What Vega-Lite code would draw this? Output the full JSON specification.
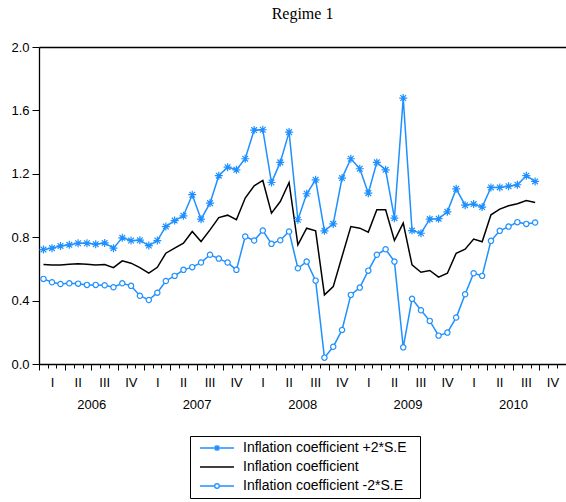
{
  "$schema": "https://vega.github.io/schema/vega-lite/v6.json",
  "width": 527,
  "height": 317,
  "autosize": "none",
  "padding": {"left": 39, "top": 47, "right": 0, "bottom": 138},
  "title": {
    "text": "Regime 1",
    "font": "Liberation Serif",
    "fontSize": 16,
    "fontWeight": "normal",
    "color": "black",
    "anchor": "middle",
    "offset": 19
  },
  "data": {
    "format": {"parse": {"date": "date:'%Y-%m'"}},
    "values": [
      {"date": "2006-01", "upper": 0.722, "coef": 0.627, "lower": 0.537},
      {"date": "2006-02", "upper": 0.731, "coef": 0.625, "lower": 0.516},
      {"date": "2006-03", "upper": 0.745, "coef": 0.625, "lower": 0.505},
      {"date": "2006-04", "upper": 0.752, "coef": 0.630, "lower": 0.509},
      {"date": "2006-05", "upper": 0.762, "coef": 0.632, "lower": 0.507},
      {"date": "2006-06", "upper": 0.762, "coef": 0.630, "lower": 0.499},
      {"date": "2006-07", "upper": 0.756, "coef": 0.625, "lower": 0.499},
      {"date": "2006-08", "upper": 0.764, "coef": 0.627, "lower": 0.497},
      {"date": "2006-09", "upper": 0.731, "coef": 0.608, "lower": 0.484},
      {"date": "2006-10", "upper": 0.796, "coef": 0.651, "lower": 0.509},
      {"date": "2006-11", "upper": 0.779, "coef": 0.636, "lower": 0.493},
      {"date": "2006-12", "upper": 0.781, "coef": 0.608, "lower": 0.431},
      {"date": "2007-01", "upper": 0.747, "coef": 0.573, "lower": 0.404},
      {"date": "2007-02", "upper": 0.779, "coef": 0.610, "lower": 0.450},
      {"date": "2007-03", "upper": 0.867, "coef": 0.699, "lower": 0.524},
      {"date": "2007-04", "upper": 0.905, "coef": 0.731, "lower": 0.556},
      {"date": "2007-05", "upper": 0.935, "coef": 0.762, "lower": 0.594},
      {"date": "2007-06", "upper": 1.068, "coef": 0.836, "lower": 0.611},
      {"date": "2007-07", "upper": 0.914, "coef": 0.773, "lower": 0.640},
      {"date": "2007-08", "upper": 1.015, "coef": 0.846, "lower": 0.689},
      {"date": "2007-09", "upper": 1.188, "coef": 0.924, "lower": 0.665},
      {"date": "2007-10", "upper": 1.242, "coef": 0.939, "lower": 0.640},
      {"date": "2007-11", "upper": 1.225, "coef": 0.910, "lower": 0.594},
      {"date": "2007-12", "upper": 1.295, "coef": 1.047, "lower": 0.804},
      {"date": "2008-01", "upper": 1.476, "coef": 1.124, "lower": 0.779},
      {"date": "2008-02", "upper": 1.478, "coef": 1.158, "lower": 0.842},
      {"date": "2008-03", "upper": 1.145, "coef": 0.952, "lower": 0.758},
      {"date": "2008-04", "upper": 1.272, "coef": 1.025, "lower": 0.781},
      {"date": "2008-05", "upper": 1.463, "coef": 1.145, "lower": 0.836},
      {"date": "2008-06", "upper": 0.910, "coef": 0.752, "lower": 0.604},
      {"date": "2008-07", "upper": 1.074, "coef": 0.857, "lower": 0.646},
      {"date": "2008-08", "upper": 1.162, "coef": 0.840, "lower": 0.526},
      {"date": "2008-09", "upper": 0.840, "coef": 0.436, "lower": 0.040},
      {"date": "2008-10", "upper": 0.884, "coef": 0.488, "lower": 0.109},
      {"date": "2008-11", "upper": 1.173, "coef": 0.678, "lower": 0.215},
      {"date": "2008-12", "upper": 1.295, "coef": 0.867, "lower": 0.436},
      {"date": "2009-01", "upper": 1.232, "coef": 0.857, "lower": 0.482},
      {"date": "2009-02", "upper": 1.078, "coef": 0.832, "lower": 0.589},
      {"date": "2009-03", "upper": 1.272, "coef": 0.973, "lower": 0.689},
      {"date": "2009-04", "upper": 1.225, "coef": 0.973, "lower": 0.724},
      {"date": "2009-05", "upper": 0.920, "coef": 0.779, "lower": 0.646},
      {"date": "2009-06", "upper": 1.678, "coef": 0.889, "lower": 0.105},
      {"date": "2009-07", "upper": 0.842, "coef": 0.625, "lower": 0.411},
      {"date": "2009-08", "upper": 0.825, "coef": 0.579, "lower": 0.339},
      {"date": "2009-09", "upper": 0.914, "coef": 0.590, "lower": 0.272},
      {"date": "2009-10", "upper": 0.917, "coef": 0.548, "lower": 0.179},
      {"date": "2009-11", "upper": 0.960, "coef": 0.573, "lower": 0.198},
      {"date": "2009-12", "upper": 1.105, "coef": 0.699, "lower": 0.293},
      {"date": "2010-01", "upper": 1.002, "coef": 0.724, "lower": 0.440},
      {"date": "2010-02", "upper": 1.009, "coef": 0.788, "lower": 0.573},
      {"date": "2010-03", "upper": 0.990, "coef": 0.771, "lower": 0.556},
      {"date": "2010-04", "upper": 1.114, "coef": 0.941, "lower": 0.777},
      {"date": "2010-05", "upper": 1.114, "coef": 0.977, "lower": 0.840},
      {"date": "2010-06", "upper": 1.122, "coef": 0.998, "lower": 0.867},
      {"date": "2010-07", "upper": 1.131, "coef": 1.011, "lower": 0.895},
      {"date": "2010-08", "upper": 1.188, "coef": 1.032, "lower": 0.884},
      {"date": "2010-09", "upper": 1.152, "coef": 1.019, "lower": 0.893}
    ]
  },
  "transform": [
    {"fold": ["upper", "coef", "lower"], "as": ["series", "value"]}
  ],
  "layer": [
    {
      "transform": [{"filter": "datum.series == 'coef'"}],
      "mark": {"type": "line", "color": "black", "strokeWidth": 1.5},
      "encoding": {
        "x": {
          "field": "date",
          "timeUnit": "yearmonth",
          "type": "temporal",
          "bandPosition": 0.5,
          "title": null,
          "scale": {
            "domain": [
              {"year": 2006, "month": 1, "date": 1},
              {"year": 2011, "month": 1, "date": 1}
            ],
            "nice": false
          },
          "axis": {
            "orient": "bottom",
            "labels": false,
            "domain": true,
            "domainWidth": 1.3,
            "ticks": true,
            "tickSize": 4,
            "tickCount": {"interval": "month", "step": 1},
            "grid": false
          }
        },
        "y": {
          "field": "value",
          "type": "quantitative",
          "title": null,
          "scale": {"domain": [0, 2], "nice": false, "zero": false},
          "axis": {
            "values": [0, 0.4, 0.8, 1.2, 1.6, 2.0],
            "format": ".1f",
            "tickSize": 7,
            "labelPadding": 3,
            "domainWidth": 1.3,
            "grid": false
          }
        }
      }
    },
    {
      "transform": [{"filter": "datum.series != 'coef'"}],
      "mark": {"type": "line", "color": "#1E90FF", "strokeWidth": 1.5},
      "encoding": {
        "x": {
          "field": "date",
          "timeUnit": "yearmonth",
          "type": "temporal",
          "bandPosition": 0.5,
          "title": null,
          "axis": {
            "orient": "bottom",
            "labels": false,
            "domain": false,
            "ticks": true,
            "tickSize": 6,
            "tickCount": {"interval": "month", "step": 3},
            "grid": false
          }
        },
        "y": {"field": "value", "type": "quantitative", "title": null},
        "detail": {"field": "series"}
      }
    },
    {
      "transform": [{"filter": "datum.series == 'upper'"}],
      "mark": {
        "type": "point",
        "shape": "M0,-1V1M-1,0H1M-0.71,-0.71L0.71,0.71M-0.71,0.71L0.71,-0.71",
        "filled": false,
        "stroke": "#1E90FF",
        "strokeWidth": 1.2,
        "size": 64,
        "opacity": 1
      },
      "encoding": {
        "x": {
          "field": "date",
          "timeUnit": "yearmonth",
          "type": "temporal",
          "bandPosition": 0.5,
          "title": null,
          "axis": {
            "orient": "bottom",
            "domain": false,
            "ticks": false,
            "tickSize": 0,
            "grid": false,
            "labelPadding": 12,
            "labelOverlap": false,
            "labelFlush": false,
            "labelBound": false,
            "values": [
              {"year": 2006, "month": 2, "date": 15}, {"year": 2006, "month": 5, "date": 15},
              {"year": 2006, "month": 8, "date": 15}, {"year": 2006, "month": 11, "date": 15},
              {"year": 2007, "month": 2, "date": 15}, {"year": 2007, "month": 5, "date": 15},
              {"year": 2007, "month": 8, "date": 15}, {"year": 2007, "month": 11, "date": 15},
              {"year": 2008, "month": 2, "date": 15}, {"year": 2008, "month": 5, "date": 15},
              {"year": 2008, "month": 8, "date": 15}, {"year": 2008, "month": 11, "date": 15},
              {"year": 2009, "month": 2, "date": 15}, {"year": 2009, "month": 5, "date": 15},
              {"year": 2009, "month": 8, "date": 15}, {"year": 2009, "month": 11, "date": 15},
              {"year": 2010, "month": 2, "date": 15}, {"year": 2010, "month": 5, "date": 15},
              {"year": 2010, "month": 8, "date": 15}, {"year": 2010, "month": 11, "date": 15}
            ],
            "labelExpr": "month(datum.value) < 3 ? 'I' : month(datum.value) < 6 ? 'II' : month(datum.value) < 9 ? 'III' : 'IV'"
          }
        },
        "y": {"field": "value", "type": "quantitative", "title": null}
      }
    },
    {
      "transform": [{"filter": "datum.series == 'lower'"}],
      "mark": {
        "type": "point",
        "shape": "circle",
        "filled": true,
        "fill": "white",
        "stroke": "#1E90FF",
        "strokeWidth": 1.2,
        "size": 28,
        "opacity": 1
      },
      "encoding": {
        "x": {
          "field": "date",
          "timeUnit": "yearmonth",
          "type": "temporal",
          "bandPosition": 0.5,
          "title": null,
          "axis": {
            "orient": "bottom",
            "domain": false,
            "ticks": false,
            "tickSize": 0,
            "grid": false,
            "labelPadding": 34,
            "labelOverlap": false,
            "labelFlush": false,
            "labelBound": false,
            "values": [
              {"year": 2006, "month": 7, "date": 1},
              {"year": 2007, "month": 7, "date": 1},
              {"year": 2008, "month": 7, "date": 1},
              {"year": 2009, "month": 7, "date": 1},
              {"year": 2010, "month": 7, "date": 1}
            ],
            "labelExpr": "timeFormat(datum.value, '%Y')"
          }
        },
        "y": {"field": "value", "type": "quantitative", "title": null}
      }
    },
    {
      "transform": [{"filter": "datum.value < -10"}],
      "mark": {"type": "point", "filled": false, "strokeWidth": 1.3, "size": 128, "opacity": 1},
      "encoding": {
        "x": {
          "field": "date",
          "timeUnit": "yearmonth",
          "type": "temporal",
          "bandPosition": 0.5,
          "title": null,
          "axis": {
            "orient": "top",
            "domain": true,
            "domainWidth": 1.3,
            "ticks": false,
            "labels": false,
            "grid": false
          }
        },
        "y": {"field": "value", "type": "quantitative", "title": null},
        "shape": {
          "field": "series",
          "type": "nominal",
          "scale": {
            "domain": ["upper", "coef", "lower"],
            "range": [
              "M-3,0H3M0,-0.55V0.55M-0.4,-0.4L0.4,0.4M-0.4,0.4L0.4,-0.4",
              "M-3,0H3",
              "M-3,0H-0.4M0.4,0H3M0.4,0A0.4,0.4,0,1,1,-0.4,0A0.4,0.4,0,1,1,0.4,0"
            ]
          },
          "legend": {
            "title": " ",
            "titleOrient": "right",
            "titlePadding": 8,
            "titleFontSize": 14,
            "orient": "none",
            "legendX": 151,
            "legendY": 389,
            "direction": "vertical",
            "labelExpr": "datum.value == 'upper' ? 'Inflation coefficient +2*S.E' : datum.value == 'coef' ? 'Inflation coefficient' : 'Inflation coefficient -2*S.E'",
            "labelFont": "Liberation Sans",
            "labelFontSize": 14,
            "labelColor": "black",
            "labelLimit": 400,
            "symbolSize": 128,
            "symbolStrokeWidth": 1.3,
            "symbolOffset": 15,
            "labelOffset": 19,
            "padding": 5,
            "rowPadding": 5,
            "strokeColor": "black",
            "fillColor": "white"
          }
        },
        "stroke": {
          "field": "series",
          "type": "nominal",
          "scale": {
            "domain": ["upper", "coef", "lower"],
            "range": ["#1E90FF", "black", "#1E90FF"]
          },
          "legend": {
            "title": " ",
            "titleOrient": "right",
            "titlePadding": 8,
            "titleFontSize": 14,
            "orient": "none",
            "legendX": 151,
            "legendY": 389,
            "direction": "vertical",
            "labelExpr": "datum.value == 'upper' ? 'Inflation coefficient +2*S.E' : datum.value == 'coef' ? 'Inflation coefficient' : 'Inflation coefficient -2*S.E'",
            "labelFont": "Liberation Sans",
            "labelFontSize": 14,
            "labelColor": "black",
            "labelLimit": 400,
            "symbolSize": 128,
            "symbolStrokeWidth": 1.3,
            "symbolOffset": 15,
            "labelOffset": 19,
            "padding": 5,
            "rowPadding": 5,
            "strokeColor": "black",
            "fillColor": "white"
          }
        }
      }
    }
  ],
  "resolve": {"axis": {"x": "independent"}},
  "config": {
    "view": {"stroke": null},
    "axis": {
      "labelFont": "Liberation Sans",
      "labelFontSize": 13,
      "labelColor": "black",
      "domainColor": "black",
      "tickColor": "black"
    }
  }
}
